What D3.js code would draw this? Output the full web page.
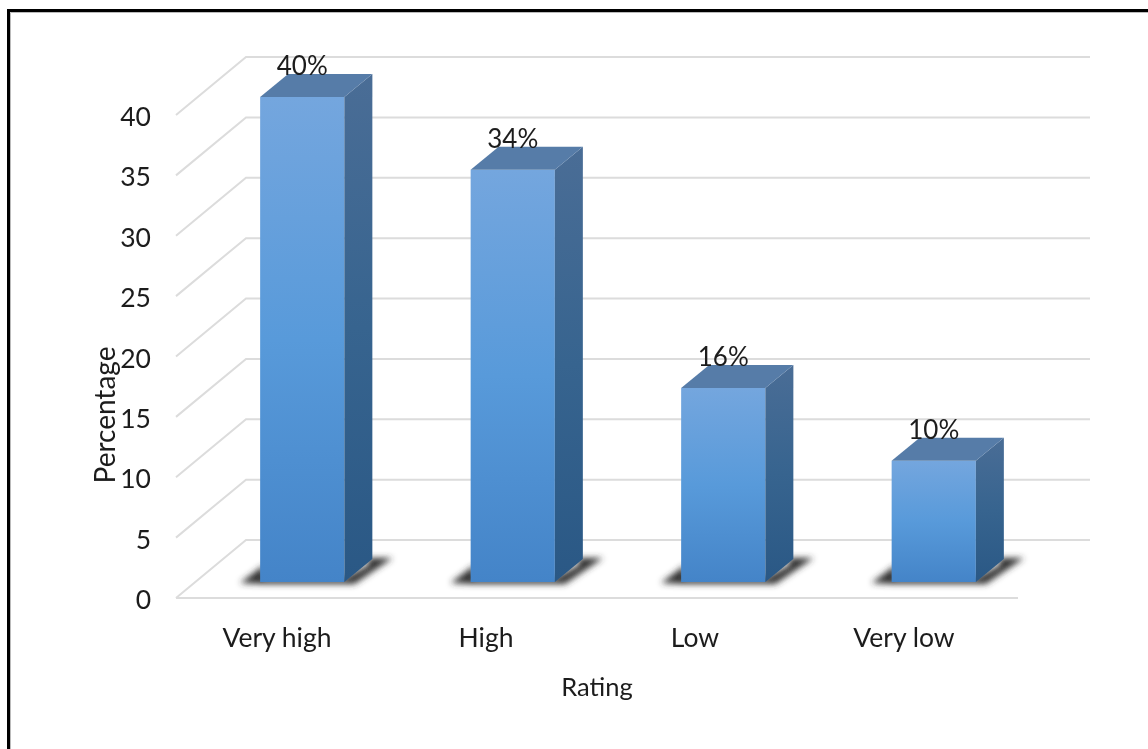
<!DOCTYPE html>
<html><head><meta charset="utf-8">
<script src="https://cdn.jsdelivr.net/npm/d3@7/dist/d3.min.js"></script>
<style>html,body{margin:0;padding:0;background:#fff}svg{display:block}text{font-family:Lato,"Open Sans",sans-serif;fill:#1c1c1c}</style>
</head><body><svg id="c" width="1148" height="749"></svg>
<script>
const categories = ["Very high","High","Low","Very low"];
const values = [40,34,16,10];
const valueLabels = ["40%","34%","16%","10%"];
const ticks = [0,5,10,15,20,25,30,35,40];
const xTitle = "Rating", yTitle = "Percentage";

const svg = d3.select("#c");
const defs = svg.append("defs");
function grad(id, stops){
  const g = defs.append("linearGradient").attr("id",id).attr("x1",0).attr("y1",0).attr("x2",0).attr("y2",1);
  stops.forEach(s=>g.append("stop").attr("offset",s[0]).attr("stop-color",s[1]));
}
grad("front",[[0,"#74a6de"],[0.5,"#589ada"],[1,"#4484c8"]]);
grad("side",[[0,"#4a6d96"],[0.5,"#37648f"],[1,"#2a5885"]]);
const blur = defs.append("filter").attr("id","blur").attr("filterUnits","userSpaceOnUse")
  .attr("x",0).attr("y",500).attr("width",1148).attr("height",120);
blur.append("feGaussianBlur").attr("stdDeviation",3.4);
defs.append("filter").attr("id","soft").attr("filterUnits","userSpaceOnUse")
  .attr("x",0).attr("y",0).attr("width",1148).attr("height",749)
  .append("feGaussianBlur").attr("stdDeviation",0.4);

// frame: left and top edges only, reaching the picture's edge
svg.append("path").attr("d","M8.5,749V10.5H1148").attr("fill","none").attr("stroke","#000").attr("stroke-width",3);
svg.append("path").attr("d","M10.5,749V12.5H1148").attr("fill","none").attr("stroke","#bbb").attr("stroke-width",1);

const yFront = d3.scaleLinear().domain([0,40]).range([598,115]);
const yBar = d3.scaleLinear().domain([0,40]).range([582,97]);
const yBack = d3.scaleLinear().domain([0,40]).range([540,57]);
const xBand = d3.scaleBand().domain(categories).range([197,1039]).paddingInner(0.6).paddingOuter(0.3);
const xLabel = d3.scalePoint().domain(categories).range([277,904]);
const depthX = 28, depthY = 23;

// walls
const grid = svg.append("g").attr("fill","none").attr("stroke","#dcdcdc").attr("stroke-width",2);
grid.selectAll("path.g").data(ticks).join("path").attr("class","g")
  .attr("d",d=>`M176,${yFront(d)}L246,${yBack(d)}H1090`);
grid.append("path").attr("d",`M176,${yFront(0)}H1018`);

// bars
const bars = svg.append("g").selectAll("g").data(categories).join("g");
const shadow = bars.append("g").attr("filter","url(#blur)").attr("fill","#333");
shadow.append("path").attr("d",c=>{const x=xBand(c),w=xBand.bandwidth(),b=yBar(0);
    return `M${x},${b+2}H${x+w+10}L${x+w+depthX+20},${b-depthY-1}H${x+w+depthX-4}V${b-depthY+6}L${x+w},${b-4}H${x}Z`;});
shadow.append("path").attr("d",c=>{const x=xBand(c),b=yBar(0);
    return `M${x-20},${b+1}L${x+4},${b-17}V${b+2}Z`;});
bars.append("rect").attr("x",c=>xBand(c)).attr("y",(c,i)=>yBar(values[i])).attr("width",xBand.bandwidth())
  .attr("height",(c,i)=>yBar(0)-yBar(values[i])).attr("fill","url(#front)");
bars.append("path").attr("fill","url(#side)").attr("d",(c,i)=>{
  const x=xBand(c)+xBand.bandwidth(),t=yBar(values[i]),b=yBar(0);
  return `M${x},${t}L${x+depthX},${t-depthY}V${b-depthY}L${x},${b}Z`;});
bars.append("path").attr("fill","#567ca8").attr("d",(c,i)=>{
  const x=xBand(c),w=xBand.bandwidth(),t=yBar(values[i]);
  return `M${x},${t}L${x+depthX},${t-depthY}H${x+w+depthX}L${x+w},${t}Z`;});

const txt = svg.append("g").attr("filter","url(#soft)");
txt.selectAll("text.v").data(categories).join("text").attr("class","v")
  .attr("x",c=>xBand(c)+xBand.bandwidth()/2).attr("y",(c,i)=>yBar(values[i])-22)
  .attr("text-anchor","middle").attr("font-size",26).text((c,i)=>valueLabels[i]);
txt.selectAll("text.t").data(ticks).join("text").attr("class","t")
  .attr("x",151).attr("y",d=>yFront(d)+11).attr("text-anchor","end").attr("font-size",26.5).text(d=>d);
txt.selectAll("text.c").data(categories).join("text").attr("class","c")
  .attr("x",c=>xLabel(c)).attr("y",647).attr("text-anchor","middle").attr("font-size",26.5).text(c=>c);
txt.append("text").attr("x",597).attr("y",696).attr("text-anchor","middle").attr("font-size",25.5).text(xTitle);
txt.append("text").attr("transform","translate(115,415) rotate(-90)").attr("text-anchor","middle").attr("font-size",28).text(yTitle);
</script></body></html>
